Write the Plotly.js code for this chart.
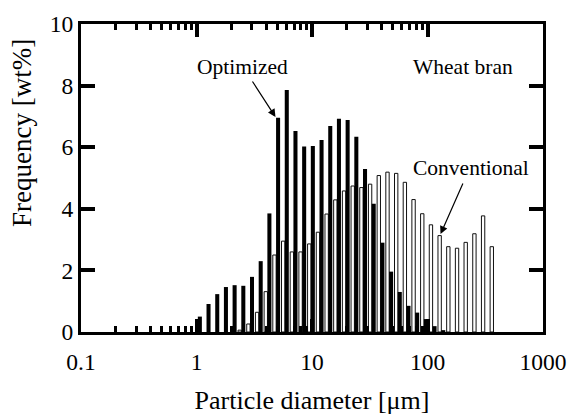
<!DOCTYPE html>
<html>
<head>
<meta charset="utf-8">
<script src="https://cdn.plot.ly/plotly-3.0.1.min.js"></script>
<style>
html,body{margin:0;padding:0;background:#fff;}
#chart{width:571px;height:418px;}
</style>
</head>
<body>
<div id="chart"></div>
<script>
// ---- data ----
// Optimized (black bars): particle diameter [um] and frequency [wt%]
const optimizedDiameter = [1.069, 1.271, 1.512, 1.798, 2.138, 2.543, 3.024, 3.596, 4.277, 5.086,
  6.048, 7.192, 8.554, 10.17, 12.10, 14.39, 17.11, 20.35, 24.20, 28.78,
  34.22, 40.70, 48.40, 57.54, 68.44, 81.38, 96.76, 115.1, 136.9];
const optimizedFreq = [0.5, 0.91, 1.23, 1.46, 1.52, 1.5, 1.79, 2.3, 3.85, 6.96,
  7.86, 6.53, 6.02, 6.04, 6.23, 6.69, 6.92, 6.88, 6.34, 5.29,
  4.16, 2.9, 1.96, 1.3, 0.85, 0.63, 0.42, 0.19, 0.06];

// Conventional (white bars)
const conventionalDiameter = [2.366, 2.814, 3.346, 3.980, 4.733, 5.629, 6.694, 7.961, 9.467, 11.26,
  13.39, 15.92, 18.94, 22.52, 26.78, 31.85, 37.87, 45.04, 53.56, 63.69,
  75.74, 90.08, 107.1, 127.4, 151.5, 180.2, 214.2, 254.8, 303.0, 360.3];
const conventionalFreq = [0.06, 0.26, 0.64, 1.31, 2.5, 2.95, 2.6, 2.6, 2.86, 3.24,
  3.83, 4.29, 4.58, 4.74, 4.69, 4.8, 5.08, 5.19, 5.15, 4.86,
  4.3, 3.84, 3.48, 3.13, 2.77, 2.72, 2.91, 3.19, 3.77, 2.77];

// axis ticks
const xTickDiameters = [0.1, 1, 10, 100, 1000];
const xTickLabels = ['0.1', '1', '10', '100', '1000'];
const yTickValues = [0, 2, 4, 6, 8, 10];

// ---- build ----
const lg = v => Math.log10(v);
const minorVals = [];
for (let d = 0; d < 3; d++) {
  const base = xTickDiameters[d];
  for (let m = 2; m <= 9; m++) minorVals.push(lg(base * m));
}

const serif = 'Liberation Serif, Times New Roman, serif';

const traces = [
  {
    type: 'bar', name: 'Conventional',
    x: conventionalDiameter.map(lg), y: conventionalFreq,
    width: 0.029,
    marker: {color: '#ffffff', line: {color: '#111', width: 1}},
    hoverinfo: 'skip'
  },
  {
    type: 'bar', name: 'Optimized',
    x: optimizedDiameter.map(lg), y: optimizedFreq,
    width: 0.035,
    marker: {color: '#000000', line: {width: 0}},
    hoverinfo: 'skip'
  }
];

const layout = {
  width: 571, height: 418,
  margin: {l: 81, r: 28, t: 24, b: 86, pad: 0},
  paper_bgcolor: '#fff', plot_bgcolor: '#fff',
  showlegend: false,
  barmode: 'overlay',
  font: {family: serif, color: '#000', size: 23},
  xaxis: {
    range: [lg(0.1), lg(1000)],
    tickmode: 'array',
    tickvals: xTickDiameters.map(lg),
    ticktext: xTickLabels,
    ticks: 'inside', ticklen: 13, tickwidth: 4, tickcolor: '#000',
    minor: {tickmode: 'array', tickvals: minorVals, ticks: 'inside', ticklen: 6, tickwidth: 3, tickcolor: '#000', showgrid: false},
    showline: true, linewidth: 3, linecolor: '#000', mirror: 'ticks',
    showgrid: false, zeroline: false,
    ticklabelstandoff: 7,
    tickfont: {family: serif, size: 23.5, color: '#000'},
    title: {text: 'Particle diameter [μm]', font: {family: serif, size: 26, color: '#000'}, standoff: 17}
  },
  yaxis: {
    range: [0, 10],
    tickmode: 'array', tickvals: yTickValues,
    ticks: 'inside', ticklen: 14, tickwidth: 4, tickcolor: '#000',
    showline: true, linewidth: 3, linecolor: '#000', mirror: 'ticks',
    showgrid: false, zeroline: false,
    tickfont: {family: serif, size: 23.5, color: '#000'}
  },
  annotations: [
    {xref: 'paper', yref: 'paper', x: -0.128, y: 0.646, text: 'Frequency [wt%]', showarrow: false,
     textangle: -90, xanchor: 'center', yanchor: 'middle', font: {family: serif, size: 27, color: '#000'}},
    {xref: 'x', yref: 'y', x: 0.394, y: 8.6, text: 'Optimized', showarrow: false,
     xanchor: 'center', yanchor: 'middle', font: {family: serif, size: 21.5, color: '#000'}},
    {xref: 'x', yref: 'y', x: 2.303, y: 8.6, text: 'Wheat bran', showarrow: false,
     xanchor: 'center', yanchor: 'middle', font: {family: serif, size: 21.5, color: '#000'}},
    {xref: 'x', yref: 'y', x: 2.379, y: 5.32, text: 'Conventional', showarrow: false,
     xanchor: 'center', yanchor: 'middle', font: {family: serif, size: 21.5, color: '#000'}},
    {xref: 'x', yref: 'y', x: 0.684, y: 6.98, text: '', showarrow: true,
     axref: 'pixel', ayref: 'pixel', ax: -24, ay: -37,
     arrowhead: 2, arrowsize: 1.3, arrowwidth: 1.2, arrowcolor: '#000', standoff: 0, startstandoff: 0},
    {xref: 'x', yref: 'y', x: 2.113, y: 3.18, text: '', showarrow: true,
     axref: 'pixel', ayref: 'pixel', ax: 23, ay: -52,
     arrowhead: 2, arrowsize: 1.3, arrowwidth: 1.2, arrowcolor: '#000', standoff: 0, startstandoff: 0}
  ]
};

Plotly.newPlot('chart', traces, layout, {staticPlot: true, displayModeBar: false});
</script>
</body>
</html>
